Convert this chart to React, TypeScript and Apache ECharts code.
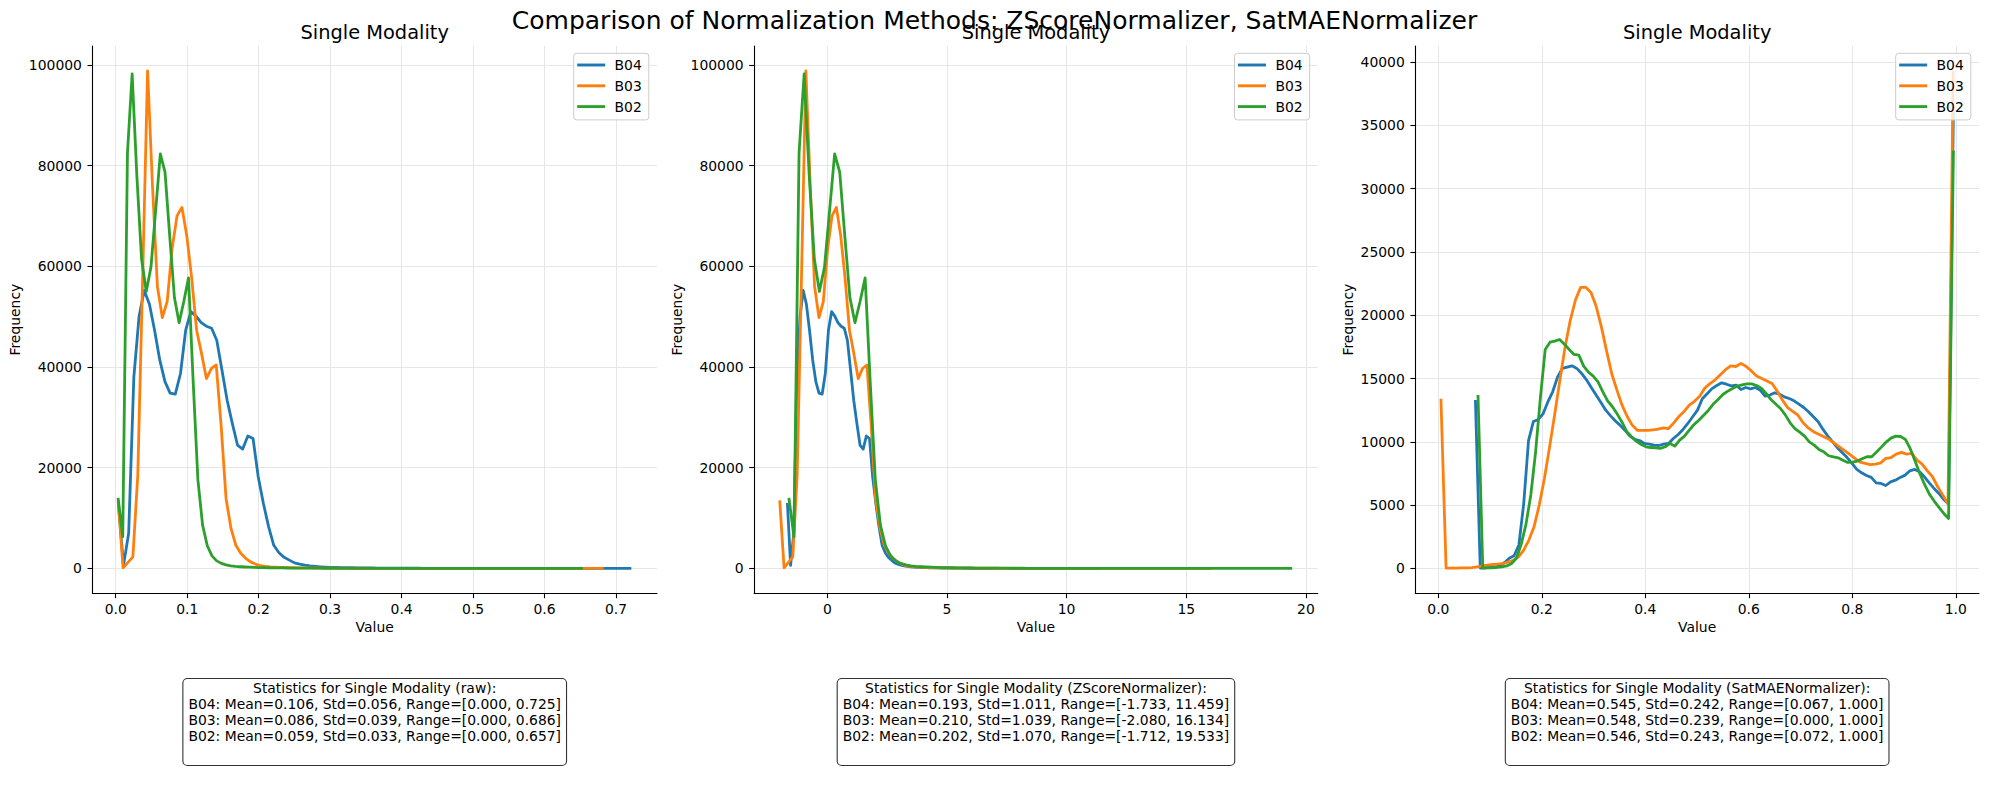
import React, { useEffect, useRef } from 'react';
import * as echarts from 'echarts';

const FONT = 'DejaVu Sans';
const BANDS = ['B04', 'B03', 'B02'];
const COLORS = ['#1f77b4', '#ff7f0e', '#2ca02c'];
const N_BINS = 100;

// Per-band summary statistics (raw reflectance, z-score, SatMAE)
const RAW_MEAN = [0.106, 0.086, 0.059];
const RAW_STD = [0.056, 0.039, 0.033];
const RAW_MIN = [0.0, 0.0, 0.0];
const RAW_MAX = [0.725, 0.686, 0.657];

const Z_MEAN = [0.193, 0.21, 0.202];
const Z_STD = [1.011, 1.039, 1.07];
const Z_MIN = [-1.733, -2.08, -1.712];
const Z_MAX = [11.459, 16.134, 19.533];

const SAT_MEAN = [0.545, 0.548, 0.546];
const SAT_STD = [0.242, 0.239, 0.243];
const SAT_MIN = [0.067, 0.0, 0.072];
const SAT_MAX = [1.0, 1.0, 1.0];

// Histogram counts (100 bins over each band's own range); the z-score is affine,
// so the raw and z-score histograms share the same counts.
const COUNTS_RAW_B04 = [
  13000, 600, 7000, 38000, 50000, 55200, 52500, 47300, 41400, 37100,
  34800, 34600, 38700, 47300, 51000, 50100, 48800, 48100, 47700, 45300,
  39400, 33400, 28800, 24500, 23700, 26300, 25800, 18200, 12900, 8300,
  4600, 3100, 2200, 1650, 1100, 860, 650, 500, 400, 320,
  260, 220, 190, 165, 145, 130, 115, 100, 90, 80,
  72, 65, 58, 52, 47, 43, 39, 35, 32, 29,
  27, 25, 23, 21, 19, 17, 16, 15, 14, 13,
  12, 11, 10, 9, 9, 8, 8, 7, 7, 6,
  6, 5, 5, 5, 4, 4, 4, 3, 3, 3,
  3, 2, 2, 2, 2, 2, 1, 1, 1, 1,
];
const COUNTS_RAW_B03 = [
  13500, 100, 1200, 2300, 18500, 58000, 98800, 76000, 56000, 49800,
  53000, 63500, 70000, 71700, 66000, 57600, 47300, 42700, 37700, 39700,
  40400, 28300, 13900, 8000, 4600, 3000, 2000, 1300, 860, 530,
  400, 300, 250, 210, 180, 155, 135, 120, 105, 95,
  85, 76, 68, 61, 55, 50, 45, 41, 37, 34,
  31, 28, 26, 24, 22, 20, 18, 17, 16, 15,
  14, 13, 12, 11, 10, 9, 9, 8, 8, 7,
  7, 6, 6, 5, 5, 5, 4, 4, 4, 3,
  3, 3, 3, 2, 2, 2, 2, 2, 2, 1,
  1, 1, 1, 1, 1, 1, 1, 1, 1, 1,
];
const COUNTS_RAW_B02 = [
  14000, 6300, 82500, 98200, 78000, 61500, 55000, 59800, 71000, 82300,
  78700, 66000, 53800, 48800, 53000, 57700, 37000, 17600, 8600, 4500,
  2500, 1500, 1000, 700, 500, 400, 330, 280, 240, 200,
  175, 155, 135, 120, 105, 95, 85, 76, 68, 61,
  55, 50, 45, 41, 37, 34, 31, 28, 26, 24,
  22, 20, 18, 17, 16, 15, 14, 13, 12, 11,
  10, 9, 9, 8, 8, 7, 7, 6, 6, 5,
  5, 5, 4, 4, 4, 3, 3, 3, 3, 2,
  2, 2, 2, 2, 2, 2, 1, 1, 1, 1,
  1, 1, 1, 1, 1, 1, 1, 1, 1, 1,
];

const COUNTS_SAT_B04 = [
  13300, 30, 50, 80, 100, 200, 450, 800, 1000, 1850,
  5100, 10100, 11600, 11750, 12200, 13150, 13950, 15100, 15800, 15900,
  16000, 15800, 15400, 14900, 14300, 13700, 13100, 12500, 12050, 11650,
  11300, 10900, 10450, 10200, 10100, 9870, 9820, 9740, 9710, 9820,
  9870, 10260, 10580, 10980, 11450, 11980, 12500, 13400, 13800, 14200,
  14450, 14660, 14550, 14420, 14480, 14130, 14290, 14190, 14290, 14080,
  13610, 13690, 13870, 13770, 13550, 13420, 13240, 12980, 12710, 12370,
  11980, 11580, 10980, 10450, 10000, 9530, 9130, 8760, 8290, 7820,
  7550, 7340, 7190, 6760, 6710, 6550, 6840, 6970, 7190, 7370,
  7710, 7820, 7630, 7240, 6760, 6320, 5920, 5450, 5080, 36000,
];
const COUNTS_SAT_B03 = [
  13400, 20, 30, 30, 40, 50, 60, 130, 200, 260,
  310, 340, 400, 500, 650, 920, 1450, 2240, 3300, 5000,
  7100, 9600, 12200, 14900, 17500, 19600, 21200, 22200, 22200, 21800,
  20700, 19100, 17200, 15400, 14100, 12900, 12000, 11300, 10900, 10900,
  10900, 10950, 11000, 11100, 11050, 11500, 12000, 12400, 12900, 13200,
  13600, 14250, 14600, 14900, 15300, 15700, 16000, 15950, 16200, 15950,
  15600, 15200, 15000, 14800, 14600, 14000, 13300, 12700, 12400, 12100,
  11500, 11100, 10800, 10600, 10400, 10200, 9900, 9600, 9300, 9000,
  8700, 8400, 8300, 8200, 8240, 8340, 8700, 8760, 9030, 9160,
  9030, 9080, 8550, 8240, 7700, 7240, 6450, 5790, 5080, 39300,
];
const COUNTS_SAT_B02 = [
  13700, 30, 40, 50, 80, 130, 200, 390, 800, 1900,
  3500, 5800, 9200, 13500, 17300, 17870, 17950, 18080, 17710, 17290,
  16900, 16850, 15980, 15500, 15190, 14740, 13950, 13240, 12770, 12190,
  11550, 10790, 10400, 10030, 9790, 9610, 9550, 9530, 9480, 9610,
  9870, 9660, 10130, 10450, 10920, 11370, 11710, 12100, 12500, 12980,
  13340, 13740, 14000, 14210, 14400, 14500, 14580, 14580, 14450, 14240,
  13820, 13340, 12980, 12630, 12130, 11500, 11050, 10760, 10450, 10000,
  9740, 9400, 9210, 8900, 8820, 8740, 8550, 8370, 8400, 8480,
  8660, 8820, 8820, 9190, 9580, 9980, 10290, 10450, 10420, 10190,
  9480, 8500, 7500, 6630, 5870, 5320, 4820, 4340, 3950, 33000,
];

const X_TICKS_RAW = [0, 0.1, 0.2, 0.3, 0.4, 0.5, 0.6, 0.7];
const X_TICKS_Z = [0, 5, 10, 15, 20];
const X_TICKS_SAT = [0, 0.2, 0.4, 0.6, 0.8, 1.0];
const Y_TICKS_COUNT = [0, 20000, 40000, 60000, 80000, 100000];
const Y_TICKS_SAT = [0, 5000, 10000, 15000, 20000, 25000, 30000, 35000, 40000];

const SUPTITLE = 'Comparison of Normalization Methods: ZScoreNormalizer, SatMAENormalizer';
const PANEL_TITLE = 'Single Modality';
const STAT_HEADERS = [
  'Statistics for Single Modality (raw):',
  'Statistics for Single Modality (ZScoreNormalizer):',
  'Statistics for Single Modality (SatMAENormalizer):',
];

// Layout (px)
const W = 1989;
const H = 801;
const GRID_TOP = 46;
const GRID_H = 547.3;
const GRID_LEFT = [92.4, 754.1, 1415.3];
const GRID_W = [564.6, 563.7, 563.7];
const YLABEL_X = [15, 676.7, 1347.5];

function binCenters(lo: number, hi: number): number[] {
  const w = (hi - lo) / N_BINS;
  const out: number[] = [];
  for (let i = 0; i < N_BINS; i++) out.push(lo + (i + 0.5) * w);
  return out;
}

function statLine(b: number, mean: number[], std: number[], mn: number[], mx: number[]) {
  return `${BANDS[b]}: Mean=${mean[b].toFixed(3)}, Std=${std[b].toFixed(3)}, Range=[${mn[b].toFixed(3)}, ${mx[b].toFixed(3)}]`;
}

function buildOption() {
  const rawCounts = [COUNTS_RAW_B04, COUNTS_RAW_B03, COUNTS_RAW_B02];
  const satCounts = [COUNTS_SAT_B04, COUNTS_SAT_B03, COUNTS_SAT_B02];
  const panels = [
    { mins: RAW_MIN, maxs: RAW_MAX, counts: rawCounts, xTicks: X_TICKS_RAW, yTicks: Y_TICKS_COUNT, fmt: (v: number) => v.toFixed(1) },
    { mins: Z_MIN, maxs: Z_MAX, counts: rawCounts, xTicks: X_TICKS_Z, yTicks: Y_TICKS_COUNT, fmt: (v: number) => String(Math.round(v)) },
    { mins: SAT_MIN, maxs: SAT_MAX, counts: satCounts, xTicks: X_TICKS_SAT, yTicks: Y_TICKS_SAT, fmt: (v: number) => v.toFixed(1) },
  ];
  const statSets = [
    [RAW_MEAN, RAW_STD, RAW_MIN, RAW_MAX],
    [Z_MEAN, Z_STD, Z_MIN, Z_MAX],
    [SAT_MEAN, SAT_STD, SAT_MIN, SAT_MAX],
  ];

  const grids: any[] = [];
  const xAxes: any[] = [];
  const yAxes: any[] = [];
  const series: any[] = [];
  const legends: any[] = [];
  const graphics: any[] = [];

  const axisLine = { show: true, onZero: false, lineStyle: { color: '#000', width: 1.1 } };
  const splitLine = { show: true, lineStyle: { color: '#e6e6e6', width: 1 } };
  const labelBase = { color: '#000', fontSize: 13.9, fontFamily: FONT };

  panels.forEach((p, pi) => {
    let xmin = Infinity, xmax = -Infinity, ymax = 0;
    const bandData = BANDS.map((_, b) => {
      const xs = binCenters(p.mins[b], p.maxs[b]);
      const pts = xs.map((x, i) => [x, p.counts[b][i]]);
      xmin = Math.min(xmin, xs[0]);
      xmax = Math.max(xmax, xs[xs.length - 1]);
      ymax = Math.max(ymax, ...p.counts[b]);
      return pts;
    });
    const xm = 0.05 * (xmax - xmin);
    const ym = 0.05 * ymax;

    grids.push({ left: GRID_LEFT[pi], top: GRID_TOP, width: GRID_W[pi], height: GRID_H, containLabel: false, outerBoundsMode: 'none' });

    xAxes.push({
      type: 'value', gridIndex: pi, min: xmin - xm, max: xmax + xm,
      axisLine,
      axisTick: { show: true, length: 4.9, lineStyle: { color: '#000', width: 1.1 }, customValues: p.xTicks },
      axisLabel: { ...labelBase, show: true, margin: 8.5, customValues: p.xTicks, formatter: p.fmt },
      splitLine,
    });
    yAxes.push({
      type: 'value', gridIndex: pi, min: -ym, max: ymax + ym,
      axisLine,
      axisTick: { show: true, length: 4.9, lineStyle: { color: '#000', width: 1.1 }, customValues: p.yTicks },
      axisLabel: { ...labelBase, show: true, margin: 10.5, customValues: p.yTicks, formatter: (v: number) => String(Math.round(v)) },
      splitLine,
    });

    BANDS.forEach((name, b) => {
      series.push({
        type: 'line', name, xAxisIndex: pi, yAxisIndex: pi,
        data: bandData[b], showSymbol: false, symbol: 'none', clip: true, silent: true,
        lineStyle: { width: 2.8, color: COLORS[b], join: 'round' },
        itemStyle: { color: COLORS[b] },
        emphasis: { disabled: true },
        z: 2 + b,
      });
    });

    const gridRight = GRID_LEFT[pi] + GRID_W[pi];
    legends.push({
      show: true, orient: 'vertical', left: gridRight - 83.3, top: 53.3,
      data: BANDS, icon: 'rect', itemWidth: 28, itemHeight: 2.9, itemGap: 4.8,
      padding: [3.7, 7, 5.3, 3.5], selectedMode: false,
      backgroundColor: 'rgba(255,255,255,0.8)', borderColor: '#cccccc', borderWidth: 1, borderRadius: 3,
      textStyle: { color: '#000', fontSize: 13.9, fontFamily: FONT, lineHeight: 16, padding: [0, 0, 0, 4.4] },
    });

    const cx = GRID_LEFT[pi] + GRID_W[pi] / 2;
    graphics.push({
      type: 'text', x: cx, y: 32.2, z: 10,
      style: { text: PANEL_TITLE, fontSize: 19.4, fontFamily: FONT, fill: '#000', align: 'center', verticalAlign: 'middle' },
    });
    graphics.push({
      type: 'text', x: cx, y: 627.2, z: 10,
      style: { text: 'Value', fontSize: 13.9, fontFamily: FONT, fill: '#000', align: 'center', verticalAlign: 'middle' },
    });
    graphics.push({
      type: 'text', x: YLABEL_X[pi], y: GRID_TOP + GRID_H / 2, rotation: Math.PI / 2, z: 10,
      style: { text: 'Frequency', fontSize: 13.9, fontFamily: FONT, fill: '#000', align: 'center', verticalAlign: 'middle' },
    });

    // Statistics box under each panel; one trailing empty line keeps the box's bottom margin
    const [mean, std, mn, mx] = statSets[pi];
    const lines = [STAT_HEADERS[pi], ...BANDS.map((_, b) => statLine(b, mean, std, mn, mx))];
    graphics.push({
      type: 'text', x: cx, y: 679, z: 10,
      style: {
        text: lines.join('\n') + '\n',
        fontSize: 13.9, lineHeight: 16.1, fontFamily: FONT, fill: '#000',
        align: 'center', verticalAlign: 'top',
        backgroundColor: '#ffffff', borderColor: '#333333', borderWidth: 1.1, borderRadius: 4,
        padding: [0.5, 5, 5, 5],
      },
    });
  });

  graphics.push({
    type: 'text', x: W / 2, y: 20.5, z: 11,
    style: { text: SUPTITLE, fontSize: 25, fontFamily: FONT, fill: '#000', align: 'center', verticalAlign: 'middle' },
  });

  return {
    animation: false,
    backgroundColor: '#ffffff',
    textStyle: { fontFamily: FONT },
    grid: grids,
    xAxis: xAxes,
    yAxis: yAxes,
    legend: legends,
    tooltip: { show: false },
    series,
    graphic: { elements: graphics },
  };
}

export default function App() {
  const ref = useRef<HTMLDivElement | null>(null);
  useEffect(() => {
    document.body.style.margin = '0';
    if (!ref.current) return;
    const chart = echarts.init(ref.current, null, { renderer: 'svg' });
    chart.setOption(buildOption() as any);
    return () => chart.dispose();
  }, []);
  return <div ref={ref} style={{ position: 'fixed', left: 0, top: 0, width: W, height: H, background: '#fff' }} />;
}
